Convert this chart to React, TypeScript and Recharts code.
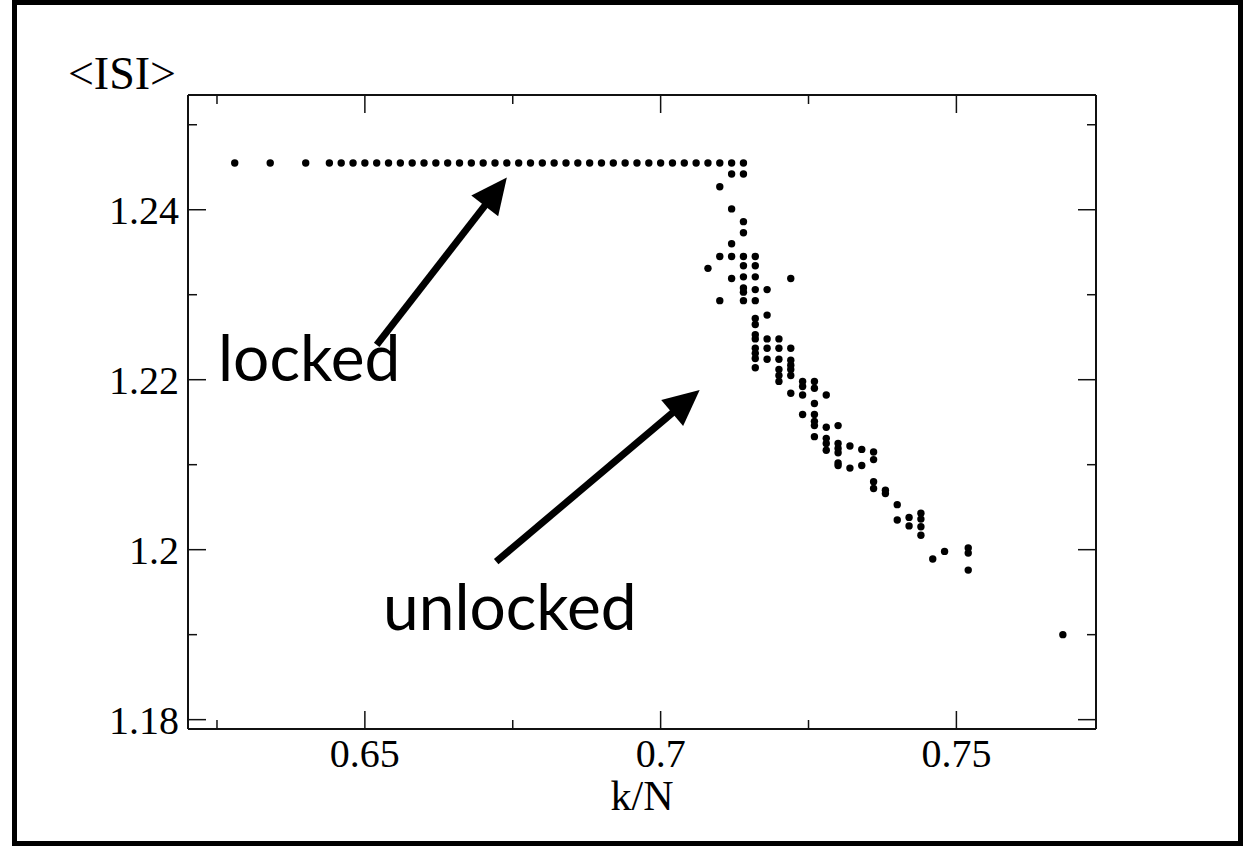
import { ScatterChart, Scatter, XAxis, YAxis, ReferenceLine } from 'recharts';

// k/N positions of the phase-locked plateau
const lockedK = [
  0.628, 0.634, 0.64, 0.644, 0.646, 0.648, 0.65, 0.652, 0.654, 0.656, 0.658, 0.66,
  0.662, 0.664, 0.666, 0.668, 0.67, 0.672, 0.674, 0.676, 0.678, 0.68, 0.682, 0.684,
  0.686, 0.688, 0.69, 0.692, 0.694, 0.696, 0.698, 0.7, 0.702, 0.704, 0.706, 0.708,
  0.71, 0.712, 0.714,
];
const lockedISI = 1.2455;

// unlocked region: one column of <ISI> values for every k/N
const unlockedK = [
  0.708, 0.71, 0.712, 0.714, 0.716, 0.718, 0.72, 0.722, 0.724, 0.726, 0.728, 0.73,
  0.732, 0.734, 0.736, 0.738, 0.74, 0.742, 0.744, 0.746, 0.748, 0.752, 0.768,
];
const unlockedISI = [
  [1.2331],
  [1.2427, 1.2345, 1.2293],
  [1.2442, 1.2401, 1.236, 1.2345, 1.2319],
  [1.2442, 1.2386, 1.2373, 1.2345, 1.2334, 1.2321, 1.2308, 1.2303, 1.2293],
  [1.2345, 1.2334, 1.2321, 1.2306, 1.2293, 1.2272, 1.2265, 1.2253, 1.2248, 1.2237, 1.2231, 1.2225, 1.2214],
  [1.2306, 1.2276, 1.2248, 1.2237, 1.2224],
  [1.2248, 1.2237, 1.2224, 1.2212, 1.2205, 1.2198],
  [1.2319, 1.2237, 1.2223, 1.2217, 1.2212, 1.2205, 1.2184],
  [1.2198, 1.2192, 1.2182, 1.2159],
  [1.2198, 1.219, 1.2172, 1.2159, 1.2151, 1.2146, 1.2133],
  [1.2182, 1.2144, 1.2131, 1.2125, 1.2117],
  [1.2146, 1.2125, 1.2119, 1.2114, 1.2102, 1.2099],
  [1.2122, 1.2096],
  [1.2118, 1.2099],
  [1.2115, 1.2106, 1.208, 1.2072],
  [1.207, 1.2066],
  [1.2053, 1.2035],
  [1.2038, 1.2028],
  [1.2043, 1.2036, 1.2027, 1.2017],
  [1.1989],
  [1.1998],
  [1.2002, 1.1996, 1.1976],
  [1.19],
];

const xTicks = [0.625, 0.65, 0.675, 0.7, 0.725, 0.75];
const xMajor = [0.65, 0.7, 0.75];
const yTicks = [1.18, 1.19, 1.2, 1.21, 1.22, 1.23, 1.24, 1.25];
const yMajor = [1.18, 1.2, 1.22, 1.24];

const xDomain = [0.6201, 0.7736];
const yDomain = [1.1789, 1.2535];

const lockedData = lockedK.map((k) => ({ k, isi: lockedISI }));
const unlockedData = unlockedK.flatMap((k, i) => unlockedISI[i].map((isi) => ({ k, isi })));

const isMajor = (v: number, list: number[]) => list.some((m) => Math.abs(m - v) < 1e-9);
const fmt = (v: number) => String(Number(v.toFixed(3)));

const serif = '"Liberation Serif", "DejaVu Serif", serif';
const tickFont = 40;

const BottomTick = ({ x, y, payload }: any) => {
  const major = isMajor(payload.value, xMajor);
  return (
    <g>
      <line x1={x} y1={y} x2={x} y2={y - (major ? 18 : 9)} stroke="#111" strokeWidth={1.5} />
      {major && (
        <text x={x} y={y + 38} textAnchor="middle" fontFamily={serif} fontSize={tickFont} fill="#000">
          {fmt(payload.value)}
        </text>
      )}
    </g>
  );
};

const TopTick = ({ x, y, payload }: any) => {
  const major = isMajor(payload.value, xMajor);
  return <line x1={x} y1={y} x2={x} y2={y + (major ? 18 : 9)} stroke="#111" strokeWidth={1.5} />;
};

const LeftTick = ({ x, y, payload }: any) => {
  const major = isMajor(payload.value, yMajor);
  return (
    <g>
      <line x1={x} y1={y} x2={x + (major ? 18 : 9)} y2={y} stroke="#111" strokeWidth={1.5} />
      {major && (
        <text x={x - 9} y={y + 14} textAnchor="end" fontFamily={serif} fontSize={tickFont} fill="#000">
          {fmt(payload.value)}
        </text>
      )}
    </g>
  );
};

const RightTick = ({ x, y, payload }: any) => {
  const major = isMajor(payload.value, yMajor);
  return <line x1={x} y1={y} x2={x - (major ? 18 : 9)} y2={y} stroke="#111" strokeWidth={1.5} />;
};

const Dot = (props: any) => <circle cx={props.cx} cy={props.cy} r={3.7} fill="#000" />;

const Arrow = (props: any) => {
  const { x1, y1, x2, y2 } = props;
  const dx = x2 - x1;
  const dy = y2 - y1;
  const len = Math.sqrt(dx * dx + dy * dy);
  const ux = dx / len;
  const uy = dy / len;
  const head = 36;
  const half = 17;
  const bx = x2 - ux * head;
  const by = y2 - uy * head;
  return (
    <g>
      <line x1={x1} y1={y1} x2={bx + ux * 4} y2={by + uy * 4} stroke="#000" strokeWidth={7} />
      <polygon
        points={`${x2},${y2} ${bx - uy * half},${by + ux * half} ${bx + uy * half},${by - ux * half}`}
        fill="#000"
      />
    </g>
  );
};

const axisLine = { stroke: '#111', strokeWidth: 2 };

export default function App() {
  return (
    <div style={{ position: 'absolute', left: 0, top: 0, width: 1254, height: 848, background: '#fff' }}>
      <div
        style={{
          position: 'absolute',
          left: 12,
          top: 0,
          width: 1231,
          height: 846,
          border: '5px solid #000',
          boxSizing: 'border-box',
        }}
      />
      <ScatterChart width={1254} height={848} margin={{ top: 0, right: 0, bottom: 0, left: 0 }}>
        <XAxis
          xAxisId="bottom"
          type="number"
          dataKey="k"
          domain={xDomain}
          ticks={xTicks}
          interval={0}
          height={119}
          tickSize={0}
          tickMargin={0}
          tickLine={false}
          axisLine={axisLine}
          tick={<BottomTick />}
          allowDataOverflow
        />
        <XAxis
          xAxisId="top"
          orientation="top"
          type="number"
          dataKey="k"
          domain={xDomain}
          ticks={xTicks}
          interval={0}
          height={95}
          tickSize={0}
          tickMargin={0}
          tickLine={false}
          axisLine={axisLine}
          tick={<TopTick />}
          allowDataOverflow
        />
        <YAxis
          yAxisId="left"
          type="number"
          dataKey="isi"
          domain={yDomain}
          ticks={yTicks}
          interval={0}
          width={188}
          tickSize={0}
          tickMargin={0}
          tickLine={false}
          axisLine={axisLine}
          tick={<LeftTick />}
          allowDataOverflow
        />
        <YAxis
          yAxisId="right"
          orientation="right"
          type="number"
          dataKey="isi"
          domain={yDomain}
          ticks={yTicks}
          interval={0}
          width={158}
          tickSize={0}
          tickMargin={0}
          tickLine={false}
          axisLine={axisLine}
          tick={<RightTick />}
          allowDataOverflow
        />
        <Scatter data={lockedData} xAxisId="bottom" yAxisId="left" shape={<Dot />} isAnimationActive={false} />
        <Scatter data={unlockedData} xAxisId="bottom" yAxisId="left" shape={<Dot />} isAnimationActive={false} />
        <Scatter data={lockedData} xAxisId="top" yAxisId="right" shape={() => <g />} isAnimationActive={false} />
        <ReferenceLine
          xAxisId="bottom"
          yAxisId="left"
          segment={[{ x: 0.652, y: 1.2241 }, { x: 0.674, y: 1.2438 }]}
          ifOverflow="visible"
          shape={<Arrow />}
        />
        <ReferenceLine
          xAxisId="bottom"
          yAxisId="left"
          segment={[{ x: 0.6722, y: 1.1986 }, { x: 0.7066, y: 1.2188 }]}
          ifOverflow="visible"
          shape={<Arrow />}
        />
      </ScatterChart>
      <svg width={1254} height={848} style={{ position: 'absolute', left: 0, top: 0, pointerEvents: 'none' }}>
        <text x={176} y={89} textAnchor="end" fontFamily={serif} fontSize={46} fill="#000">
          {'<ISI>'}
        </text>
        <text x={642} y={810} textAnchor="middle" fontFamily={serif} fontSize={42} fill="#000">
          k/N
        </text>
        <text x={218} y={381} fontFamily="Lato, sans-serif" fontSize={64} fill="#000">
          locked
        </text>
        <text x={383} y={630} fontFamily="Lato, sans-serif" fontSize={64} fill="#000">
          unlocked
        </text>
      </svg>
    </div>
  );
}
